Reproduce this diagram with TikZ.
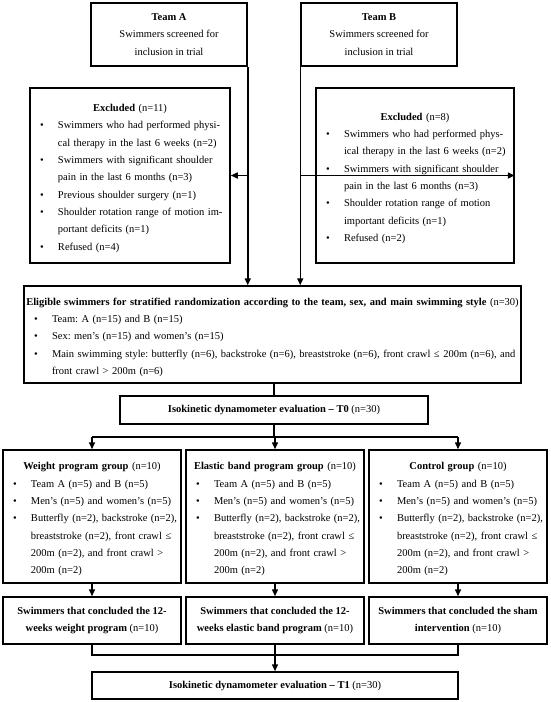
\documentclass[tikz,border=0pt]{standalone}
\usepackage{fontspec}
\setmainfont{Liberation Serif}
\usetikzlibrary{arrows.meta}
\frenchspacing

% bullet list used inside the boxes
\newenvironment{bullets}{%
  \setlength{\linewidth}{\hsize}%
  \begin{list}{\textbullet}{%
    \setlength{\leftmargin}{28pt}\setlength{\labelwidth}{18pt}%
    \setlength{\labelsep}{0pt}\setlength{\rightmargin}{0pt}%
    \setlength{\itemsep}{0pt}\setlength{\parsep}{0pt}%
    \setlength{\topsep}{0pt}\setlength{\partopsep}{0pt}%
    \renewcommand{\makelabel}[1]{##1\hfil}}\raggedright}{\end{list}}
\newcommand{\boxtitle}[1]{{\centering\rule{0pt}{13pt}#1\par}}

\begin{document}
\begin{tikzpicture}[x=1pt,y=-1pt,
    box/.style={draw, line width=1.5pt, inner sep=0pt, align=left,
      font=\fontsize{10.5}{17.3}\selectfont},
    cbox/.style={box, align=center},
    line/.style={line width=1.5pt},
    arr/.style={line, -{Triangle[length=7pt,width=6pt]}}]

      % Define the page
      \useasboundingbox (0,0) rectangle (550,702);
      \def\GroupWidth{178pt}

      % Draw the screening boxes
      \node[cbox, minimum width=156pt, minimum height=63pt] (teamA) at (169,34.5)
        {\textbf{Team A}\\Swimmers screened for\\inclusion in trial};
      \node[cbox, minimum width=156pt, minimum height=63pt] (teamB) at (379,34.5)
        {\textbf{Team B}\\Swimmers screened for\\inclusion in trial};

      % Draw the excluded boxes
      \node[box, text width=200pt, minimum height=175pt] (exclA) at (130,175.5) {%
        \boxtitle{\textbf{Excluded} (n=11)}
        \begin{bullets}
        \item Swimmers who had performed physi-\\cal therapy in the last 6 weeks (n=2)
        \item Swimmers with significant shoulder\\pain in the last 6 months (n=3)
        \item Previous shoulder surgery (n=1)
        \item Shoulder rotation range of motion im-\\portant deficits (n=1)
        \item Refused (n=4)
        \end{bullets}};
      \node[box, text width=198pt, minimum height=175pt] (exclB) at (415,175.5) {%
        \boxtitle{\textbf{Excluded} (n=8)}
        \begin{bullets}
        \item Swimmers who had performed phys-\\ical therapy in the last 6 weeks (n=2)
        \item Swimmers with significant shoulder\\pain in the last 6 months (n=3)
        \item Shoulder rotation range of motion\\important deficits (n=1)
        \item Refused (n=2)
        \end{bullets}};

      % Draw the eligible box and the first evaluation
      \node[box, text width=497pt, minimum height=97pt] (elig) at (272.5,334.5) {%
        \boxtitle{\textbf{Eligible swimmers for stratified randomization according to the team, sex, and main swimming style} (n=30)}
        \begin{bullets}
        \item Team: A (n=15) and B (n=15)
        \item Sex: men’s (n=15) and women’s (n=15)
        \item Main swimming style: butterfly (n=6), backstroke (n=6), breaststroke (n=6), front crawl ≤ 200m (n=6), and\\front crawl > 200m (n=6)
        \end{bullets}};
      \node[cbox, minimum width=308pt, minimum height=28pt] (tzero) at (274,410)
        {\textbf{Isokinetic dynamometer evaluation – T0} (n=30)};

      % Draw the group boxes
      \node[box, text width=\GroupWidth, minimum height=133pt] (weight) at (92,516.5) {%
        \boxtitle{\textbf{Weight program group} (n=10)}
        \begin{bullets}
        \item Team A (n=5) and B (n=5)
        \item Men’s (n=5) and women’s (n=5)
        \item Butterfly (n=2), backstroke (n=2),\\breaststroke (n=2), front crawl ≤\\200m (n=2), and front crawl >\\200m (n=2)
        \end{bullets}};
      \node[box, text width=\GroupWidth, minimum height=133pt] (elastic) at (275,516.5) {%
        \boxtitle{\textbf{Elastic band program group} (n=10)}
        \begin{bullets}
        \item Team A (n=5) and B (n=5)
        \item Men’s (n=5) and women’s (n=5)
        \item Butterfly (n=2), backstroke (n=2),\\breaststroke (n=2), front crawl ≤\\200m (n=2), and front crawl >\\200m (n=2)
        \end{bullets}};
      \node[box, text width=\GroupWidth, minimum height=133pt] (control) at (458,516.5) {%
        \boxtitle{\textbf{Control group} (n=10)}
        \begin{bullets}
        \item Team A (n=5) and B (n=5)
        \item Men’s (n=5) and women’s (n=5)
        \item Butterfly (n=2), backstroke (n=2),\\breaststroke (n=2), front crawl ≤\\200m (n=2), and front crawl >\\200m (n=2)
        \end{bullets}};

      % Draw the concluded boxes and the last evaluation
      \node[cbox, minimum width=\GroupWidth, minimum height=47pt] (finW) at (92,620.5)
        {\textbf{Swimmers that concluded the 12-}\\\textbf{weeks weight program} (n=10)};
      \node[cbox, minimum width=\GroupWidth, minimum height=47pt] (finE) at (275,620.5)
        {\textbf{Swimmers that concluded the 12-}\\\textbf{weeks elastic band program} (n=10)};
      \node[cbox, minimum width=\GroupWidth, minimum height=47pt] (finC) at (458,620.5)
        {\textbf{Swimmers that concluded the sham}\\\textbf{intervention} (n=10)};
      \node[cbox, minimum width=366pt, minimum height=27pt] (tone) at (275,685.5)
        {\textbf{Isokinetic dynamometer evaluation – T1} (n=30)};

      % Define the junctions
      \coordinate (jA) at (teamA.south east |- exclA.east);
      \coordinate (jB) at (teamB.south west |- exclB.east);
      \coordinate (split) at (274,437);
      \coordinate (join) at (275,655);

      % Draw the screening flow
      \draw[arr] (teamA.south east) -- (teamA.south east |- elig.north);
      \draw[arr] (teamB.south west) -- (teamB.south west |- elig.north);
      \draw[arr] (jA) -- (exclA.east);
      \draw[arr] (jB) -- (exclB.east);
      \draw[line] (tzero.north |- elig.south) -- (tzero.north);

      % Draw the randomization split
      \draw[line] (tzero.south) -- (split);
      \draw[line] (split -| weight.north) -- (split -| control.north);
      \draw[arr] (split -| weight.north) -- (weight.north);
      \draw[arr] (split -| elastic.north) -- (elastic.north);
      \draw[arr] (split -| control.north) -- (control.north);

      % Draw the groups to the end
      \draw[arr] (weight.south) -- (finW.north);
      \draw[arr] (elastic.south) -- (finE.north);
      \draw[arr] (control.south) -- (finC.north);
      \draw[line] (finW.south) -- (join -| finW.south) -- (join -| finC.south) -- (finC.south);
      \draw[arr] (finE.south) -- (tone.north);
    \end{tikzpicture}
\end{document}
